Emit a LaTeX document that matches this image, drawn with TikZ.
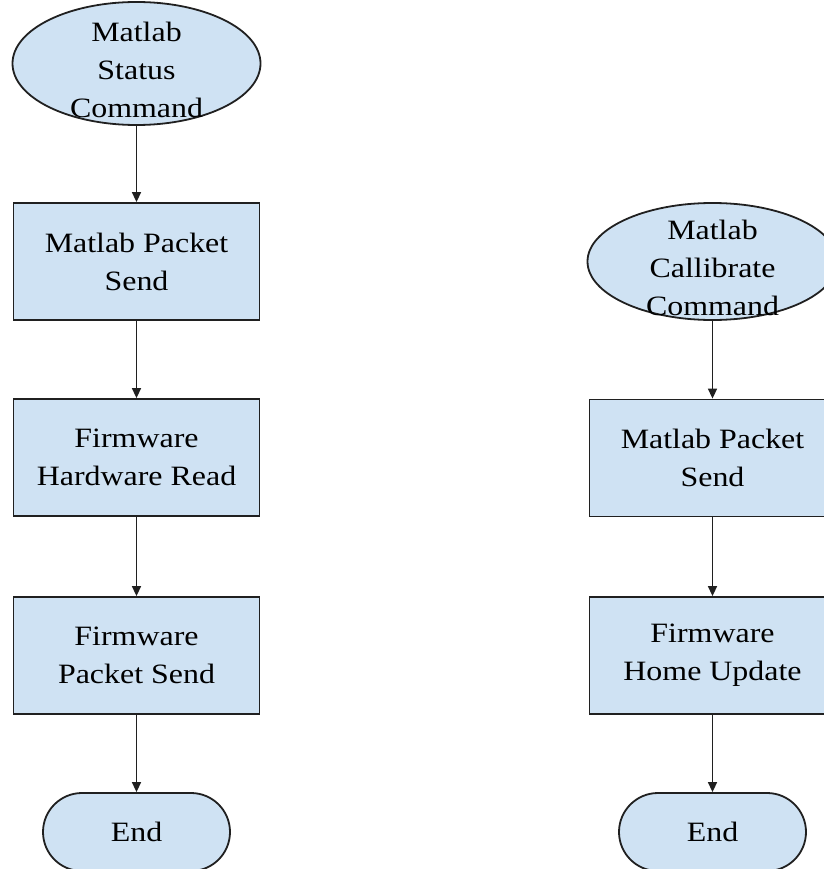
\documentclass[tikz,border=0pt]{standalone}
\usepackage{fontspec}
\setmainfont[FakeStretch=1.14]{Liberation Serif}
\usepackage{xcolor}
\usepackage{tikz}
\usetikzlibrary{shapes,arrows.meta,positioning}

\definecolor{boxblue}{HTML}{CFE2F3}
\definecolor{edge}{HTML}{202020}
\newcommand{\boxfont}{\fontsize{28}{38}\selectfont}

\begin{document}
\begin{tikzpicture}[x=1pt, y=-1pt,
    block/.style={draw=edge, line width=1.8pt, fill=boxblue, rectangle, minimum width=246pt, minimum height=117pt, align=center, font=\boxfont, inner sep=0pt},
    cmd/.style={draw=edge, line width=1.8pt, fill=boxblue, ellipse, inner sep=0pt},
    cmdtext/.style={font=\boxfont, align=center, yshift=-6pt},
    term/.style={draw=edge, line width=1.8pt, fill=boxblue, rectangle, rounded corners=39pt, minimum width=187pt, minimum height=78pt, font=\boxfont},
    flow/.style={draw=edge, line width=1.5pt, -{Triangle[length=10pt,width=9pt]}}]
  \useasboundingbox (0,0) rectangle (823,869);

  % Status command
  \node[cmd, minimum width=248pt, minimum height=123pt,
    label={[cmdtext]center:Matlab\\Status\\Command}] (status) at (136.5,63.5) {};
  \node[block] (send1) at (136.5,261.5) {Matlab Packet\\Send};
  \node[block] (read) at (136.5,457.5) {Firmware\\Hardware Read};
  \node[block] (fwsend) at (136.5,655.5) {Firmware\\Packet Send};
  \node[term] (end1) at (136.5,832) {End};

  \draw[flow] (status) -- (send1);
  \draw[flow] (send1) -- (read);
  \draw[flow] (read) -- (fwsend);
  \draw[flow] (fwsend) -- (end1);

  % Callibrate command
  \node[cmd, minimum width=250pt, minimum height=117pt,
    label={[cmdtext]center:Matlab\\Callibrate\\Command}] (calib) at (712.5,261.5) {};
  \node[block] (send2) at (712.5,458) {Matlab Packet\\Send};
  \node[block] (home) at (712.5,655.5) {Firmware\\Home Update};
  \node[term] (end2) at (712.5,832) {End};

  \draw[flow] (calib) -- (send2);
  \draw[flow] (send2) -- (home);
  \draw[flow] (home) -- (end2);
\end{tikzpicture}
\end{document}
